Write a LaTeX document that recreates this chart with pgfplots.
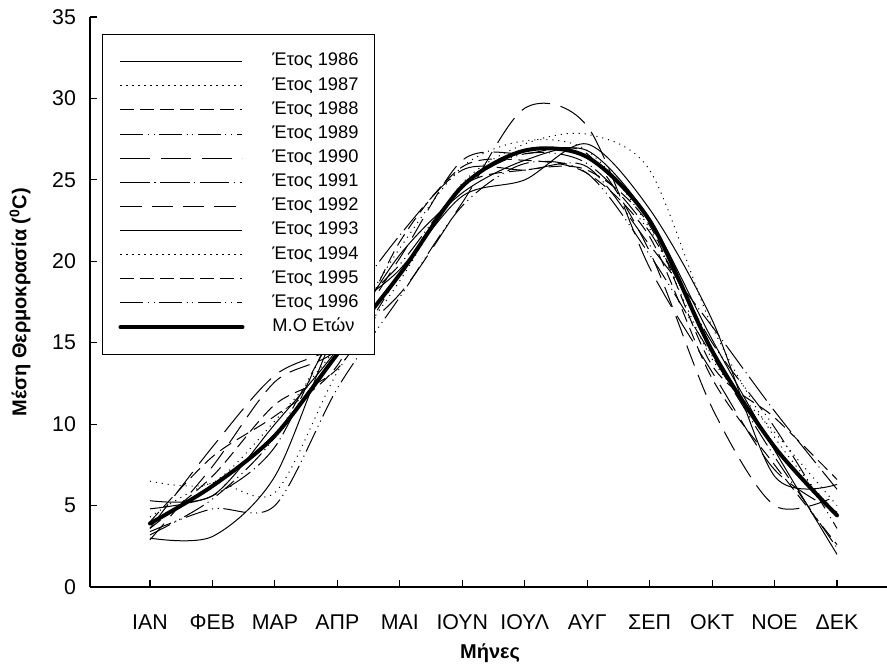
\documentclass[border=0pt]{standalone}
\usepackage{fontspec}
\setmainfont{Liberation Sans}
\usepackage{pgfplots}
\usepackage{pgfplotstable}
\pgfplotsset{compat=1.18}

\pgfplotstableread{
m  a86  a87  a88  a89  a90  a91  a92  a93  a94  a95  a96  mo
1  3.0  6.5  4.0  3.2  3.6  4.8  2.9  5.3  4.3  3.6  3.4  3.9
2  3.1  6.4  8.0  5.4  8.6  5.6  7.4  5.6  6.4  6.8  4.8  6.2
3  6.8  10.2 10.5 9.2  13.0 8.6  12.6 10.0 5.8  11.2 5.0  9.3
4  15.8 14.8 13.6 15.8 14.8 16.2 14.6 14.6 13.2 13.4 12.2 14.3
5  19.5 20.8 21.2 19.8 18.0 21.6 20.2 20.4 18.8 19.2 17.8 19.2
6  24.0 25.8 25.8 24.6 23.6 25.6 26.2 24.2 24.8 24.6 23.4 24.6
7  25.0 27.4 26.2 26.6 29.4 25.6 26.6 26.2 27.2 25.6 26.0 26.8
8  27.2 26.8 25.4 26.0 28.3 25.8 26.6 26.8 27.8 25.6 25.4 26.4
9  23.2 22.0 21.5 21.8 19.6 21.0 20.6 22.6 25.6 22.2 20.4 22.5
10 16.4 14.0 12.8 15.0 13.2 16.0 11.0 15.2 16.0 13.6 14.2 14.5
11 6.8  9.5  7.5  9.8  7.2  10.8 5.0  8.4  9.2  10.4 8.0  8.6
12 6.3  5.0  2.6  3.6  4.6  6.0  5.6  2.0  4.4  6.6  2.4  4.4
}\data

\begin{document}
\begin{tikzpicture}
\useasboundingbox (-67.5pt,-58.5pt) rectangle (597.75pt,440.25pt);
\begin{axis}[
  scale only axis, width=597.75pt, height=427.5pt,
  xmin=0.04, xmax=12.8, ymin=0, ymax=35,
  axis x line*=bottom, axis y line*=left,
  axis line style={line width=1.1pt, -},
  tick align=inside, major tick length=5pt,
  tick style={line width=0.9pt, black},
  xtick={1,...,12},
  xticklabels={ΙΑΝ,ΦΕΒ,ΜΑΡ,ΑΠΡ,ΜΑΙ,ΙΟΥΝ,ΙΟΥΛ,ΑΥΓ,ΣΕΠ,ΟΚΤ,ΝΟΕ,ΔΕΚ},
  ytick={0,5,...,35},
  /pgf/number format/assume math mode=true,
  ticklabel style={font=\fontsize{16}{19}\selectfont},
  xticklabel style={yshift=-17pt},
  yticklabel style={xshift=-7pt},
  xlabel={\textbf{Μήνες}},
  ylabel={\textbf{Μέση Θερμοκρασία (\textsuperscript{0}C)}},
  xlabel style={at={(axis description cs:0.502,0)}, anchor=center, yshift=-49.5pt, font=\fontsize{15}{18}\selectfont},
  ylabel style={at={(axis description cs:-0.0878,0.5)}, anchor=center, font=\fontsize{15}{18}\selectfont},
  legend style={at={(0.015,0.97)}, anchor=north west, draw=black, line width=0.8pt, fill=white,
    font=\fontsize{13.7}{16}\selectfont, inner xsep=12pt, inner ysep=14pt, row sep=5.6pt,
    nodes={inner sep=0pt, text height=9.5pt, text depth=3pt},
    /tikz/every odd column/.append style={column sep=21pt}},
  legend image code/.code={\draw[#1] (0pt,0pt) -- (91.5pt,0pt);},
  legend cell align=left,
]
\addplot[black, line width=0.75pt, smooth] table[x=m,y=a86] {\data};
\addlegendentry{Έτος 1986}
\addplot[black, line width=0.75pt, smooth, dash pattern=on 0.8pt off 3.7pt] table[x=m,y=a87] {\data};
\addlegendentry{Έτος 1987}
\addplot[black, line width=0.75pt, smooth, dash pattern=on 10pt off 5pt] table[x=m,y=a88] {\data};
\addlegendentry{Έτος 1988}
\addplot[black, line width=0.75pt, smooth, dash pattern=on 17pt off 3.5pt on 0.8pt off 3.5pt on 0.8pt off 3.5pt] table[x=m,y=a89] {\data};
\addlegendentry{Έτος 1989}
\addplot[black, line width=0.75pt, smooth, dash pattern=on 22.5pt off 8pt] table[x=m,y=a90] {\data};
\addlegendentry{Έτος 1990}
\addplot[black, line width=0.75pt, smooth, dash pattern=on 22pt off 3.5pt on 0.8pt off 3.5pt] table[x=m,y=a91] {\data};
\addlegendentry{Έτος 1991}
\addplot[black, line width=0.75pt, smooth, dash pattern=on 16pt off 7.5pt] table[x=m,y=a92] {\data};
\addlegendentry{Έτος 1992}
\addplot[black, line width=0.75pt, smooth] table[x=m,y=a93] {\data};
\addlegendentry{Έτος 1993}
\addplot[black, line width=0.75pt, smooth, dash pattern=on 0.8pt off 3.7pt] table[x=m,y=a94] {\data};
\addlegendentry{Έτος 1994}
\addplot[black, line width=0.75pt, smooth, dash pattern=on 10pt off 5pt] table[x=m,y=a95] {\data};
\addlegendentry{Έτος 1995}
\addplot[black, line width=0.75pt, smooth, dash pattern=on 17pt off 3.5pt on 0.8pt off 3.5pt on 0.8pt off 3.5pt] table[x=m,y=a96] {\data};
\addlegendentry{Έτος 1996}
\addplot[black, line width=3pt, smooth, line cap=round] table[x=m,y=mo] {\data};
\addlegendentry{Μ.Ο Ετών}
\end{axis}
\end{tikzpicture}
\end{document}
